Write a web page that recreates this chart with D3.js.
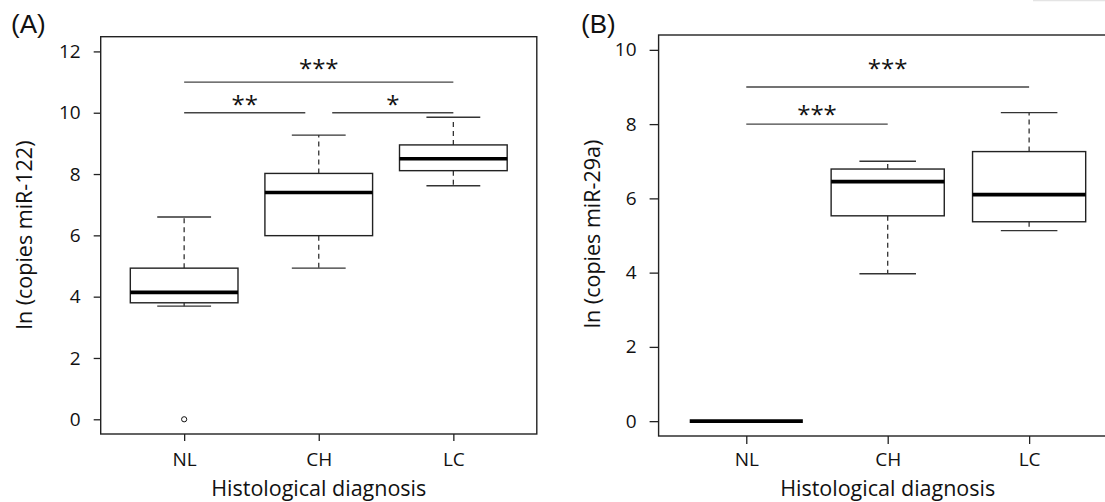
<!DOCTYPE html>
<html lang="en">
<head>
<meta charset="utf-8">
<title>miR-122 and miR-29a by histological diagnosis</title>
<script src="https://cdn.jsdelivr.net/npm/d3@7"></script>
<style>
  body { margin: 0; background: #fff; }
  svg { display: block; }
  .axis path { display: none; }
  .axis line { stroke: #222; stroke-width: 1.3; }
  .axis text { font-family: "Open Sans", sans-serif; font-size: 19px; fill: #111; }
  .label { font-family: "Open Sans", sans-serif; font-size: 21.5px; fill: #111; }
  .panel { font-family: "Liberation Sans", Arial, sans-serif; font-size: 26px; fill: #111; }
  .stars { font-family: "Open Sans", sans-serif; font-size: 24px; fill: #111; }
</style>
</head>
<body>
<script>
// categories
var categories = ["NL", "CH", "LC"];

// (A) ln copies miR-122
var aLow    = [3.69, 4.93, 7.62];
var aQ1     = [3.80, 5.99, 8.11];
var aMedian = [4.14, 7.40, 8.50];
var aQ3     = [4.93, 8.02, 8.95];
var aHigh   = [6.60, 9.27, 9.85];
var aOutliers = [["NL", 0]];
var aTicks = [0, 2, 4, 6, 8, 10, 12];
// significance brackets: from, to, level, label level, stars
var aSig = [
  ["NL", "LC", 11, 11.6, "***", 0, 0],
  ["NL", "CH", 10, 10.42, "**", 0, -0.1],
  ["CH", "LC", 10, 10.42, "*", 0.1, 0]
];

// (B) ln copies miR-29a
var bLow    = [0, 3.97, 5.13];
var bQ1     = [0, 5.53, 5.37];
var bMedian = [0, 6.45, 6.10];
var bQ3     = [0, 6.79, 7.26];
var bHigh   = [0, 7.00, 8.31];
var bOutliers = [];
var bTicks = [0, 2, 4, 6, 8, 10];
var bSig = [
  ["NL", "LC", 9, 9.62, "***", 0, 0],
  ["NL", "CH", 8, 8.38, "***", 0, 0]
];

var W = 1105, H = 502;
var svg = d3.select("body").append("svg")
  .attr("width", W)
  .attr("height", H);

// faint strip at the top right corner of the original
svg.append("line")
  .attr("x1", 1033).attr("x2", W)
  .attr("y1", 0.5).attr("y2", 0.5)
  .attr("stroke", "#e4e4e4").attr("stroke-width", 1.5);

function drawPanel(opt) {
  var stats = categories.map(function(c, i) {
    return { cat: c, idx: i + 1, low: opt.low[i], q1: opt.q1[i], med: opt.med[i], q3: opt.q3[i], high: opt.high[i] };
  });

  var x = d3.scaleLinear().domain([0.38, 3.62]).range([opt.left, opt.right]);
  var y = d3.scaleLinear().domain(opt.yDomain).range([opt.bottom, opt.top]);
  var step = x(2) - x(1);
  var bw = step * 0.8;

  var g = svg.append("g");

  // frame
  g.append("rect")
    .attr("x", opt.left).attr("y", opt.top)
    .attr("width", opt.right - opt.left)
    .attr("height", opt.bottom - opt.top)
    .attr("fill", "none")
    .attr("stroke", "#222")
    .attr("stroke-width", 1.4);

  // y axis
  g.append("g")
    .attr("class", "axis")
    .attr("transform", "translate(" + opt.left + ",0)")
    .call(d3.axisLeft(y).tickValues(opt.ticks).tickSize(opt.tick).tickPadding(opt.yPad).tickFormat(d3.format("d")));

  // x axis
  g.append("g")
    .attr("class", "axis")
    .attr("transform", "translate(0," + opt.bottom + ")")
    .call(d3.axisBottom(x).tickValues([1, 2, 3]).tickSize(opt.xTick).tickPadding(opt.xPad)
      .tickFormat(function(d) { return categories[d - 1]; }));

  // axis titles
  g.append("text")
    .attr("class", "label")
    .attr("x", x(2)).attr("y", 496)
    .attr("text-anchor", "middle")
    .text("Histological diagnosis");

  g.append("text")
    .attr("class", "label")
    .attr("transform", "translate(" + opt.yLabelX + "," + opt.yLabelY + ") rotate(-90)")
    .attr("text-anchor", "middle")
    .text(opt.yTitle);

  g.append("text")
    .attr("class", "panel")
    .attr("x", opt.tagX).attr("y", 33)
    .text(opt.tag);

  // boxes
  var box = g.selectAll(".box").data(stats).enter().append("g").attr("class", "box");

  box.filter(function(d) { return d.high > d.low; }).each(function(d) {
    var s = d3.select(this);
    var cx = x(d.idx);
    // whiskers
    s.append("line")
      .attr("x1", cx).attr("x2", cx)
      .attr("y1", y(d.q3)).attr("y2", y(d.high))
      .attr("stroke", "#333").attr("stroke-width", 1.3).attr("stroke-dasharray", "5,4");
    s.append("line")
      .attr("x1", cx).attr("x2", cx)
      .attr("y1", y(d.q1)).attr("y2", y(d.low))
      .attr("stroke", "#333").attr("stroke-width", 1.3).attr("stroke-dasharray", "5,4");
    // staples
    [d.high, d.low].forEach(function(v) {
      s.append("line")
        .attr("x1", cx - bw / 4).attr("x2", cx + bw / 4)
        .attr("y1", y(v)).attr("y2", y(v))
        .attr("stroke", "#333").attr("stroke-width", 1.4);
    });
    // box
    s.append("rect")
      .attr("x", cx - bw / 2).attr("y", y(d.q3))
      .attr("width", bw).attr("height", y(d.q1) - y(d.q3))
      .attr("fill", "#fff").attr("stroke", "#222").attr("stroke-width", 1.4);
  });

  // medians
  box.append("line")
    .attr("x1", function(d) { return x(d.idx) - bw / 2; })
    .attr("x2", function(d) { return x(d.idx) + bw / 2; })
    .attr("y1", function(d) { return y(d.med); })
    .attr("y2", function(d) { return y(d.med); })
    .attr("stroke", "#000").attr("stroke-width", 3.6);

  // outliers
  g.selectAll(".out").data(opt.outliers).enter().append("circle")
    .attr("cx", function(d) { return x(categories.indexOf(d[0]) + 1); })
    .attr("cy", function(d) { return y(d[1]); })
    .attr("r", 2.6)
    .attr("fill", "none").attr("stroke", "#111").attr("stroke-width", 1);

  // significance brackets
  var sig = g.selectAll(".sig").data(opt.sig).enter().append("g");
  sig.append("line")
    .attr("x1", function(d) { return x(categories.indexOf(d[0]) + 1 + d[5]); })
    .attr("x2", function(d) { return x(categories.indexOf(d[1]) + 1 + d[6]); })
    .attr("y1", function(d) { return y(d[2]); })
    .attr("y2", function(d) { return y(d[2]); })
    .attr("stroke", "#444").attr("stroke-width", 1.3);
  sig.append("text")
    .attr("class", "stars")
    .attr("text-anchor", "middle")
    .attr("x", function(d) {
      return (x(categories.indexOf(d[0]) + 1 + d[5]) + x(categories.indexOf(d[1]) + 1 + d[6])) / 2;
    })
    .attr("y", function(d) { return y(d[3]); })
    .attr("dy", "0.55em")
    .text(function(d) { return d[4]; });
}

drawPanel({
  tag: "(A)", tagX: 11,
  left: 100.7, right: 536.8, top: 36.7, bottom: 434,
  yDomain: [-0.48, 12.48], ticks: aTicks, tick: 7, yPad: 13, xTick: 7, xPad: 12,
  yTitle: "ln (copies miR-122)", yLabelX: 31.5, yLabelY: 235,
  low: aLow, q1: aQ1, med: aMedian, q3: aQ3, high: aHigh,
  outliers: aOutliers, sig: aSig
});

drawPanel({
  tag: "(B)", tagX: 581,
  left: 658.6, right: 1116.8, top: 35, bottom: 436,
  yDomain: [-0.4, 10.4], ticks: bTicks, tick: 9, yPad: 13, xTick: 8, xPad: 9,
  yTitle: "ln (copies miR-29a)", yLabelX: 600, yLabelY: 234,
  low: bLow, q1: bQ1, med: bMedian, q3: bQ3, high: bHigh,
  outliers: bOutliers, sig: bSig
});
</script>
</body>
</html>
